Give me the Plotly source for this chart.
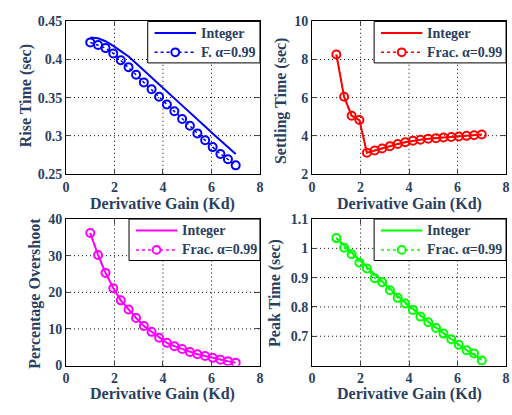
import plotly.graph_objects as go

# ---------------- data ----------------
kd = [1.00, 1.32, 1.63, 1.95, 2.26, 2.58, 2.89, 3.21, 3.53, 3.84,
      4.16, 4.47, 4.79, 5.11, 5.42, 5.74, 6.05, 6.37, 6.68, 7.00]

rise_int = [0.429, 0.428, 0.424, 0.418, 0.411, 0.404, 0.395, 0.386, 0.376, 0.367,
            0.358, 0.349, 0.340, 0.330, 0.321, 0.312, 0.303, 0.294, 0.285, 0.276]
rise_frac = [0.4225, 0.419, 0.415, 0.408, 0.399, 0.390, 0.380, 0.370, 0.361, 0.351,
             0.341, 0.332, 0.322, 0.313, 0.303, 0.294, 0.285, 0.276, 0.269, 0.261]

settle_int = [8.26, 6.04, 5.05, 4.82, 3.10, 3.22, 3.33, 3.45, 3.56, 3.65,
              3.74, 3.79, 3.84, 3.87, 3.90, 3.93, 3.96, 3.99, 4.02, 4.06]
settle_frac = [8.26, 6.04, 5.05, 4.82, 3.10, 3.22, 3.33, 3.45, 3.56, 3.65,
               3.74, 3.79, 3.84, 3.87, 3.90, 3.93, 3.96, 3.99, 4.02, 4.06]

over_int = [36.2, 30.2, 25.3, 21.1, 17.8, 15.3, 13.0, 10.8, 9.2, 7.6,
            6.2, 5.3, 4.5, 3.7, 3.1, 2.6, 2.1, 1.6, 1.2, 0.8]
over_frac = [36.2, 30.2, 25.3, 21.1, 17.8, 15.3, 13.0, 10.8, 9.2, 7.6,
             6.2, 5.3, 4.5, 3.7, 3.1, 2.6, 2.1, 1.6, 1.2, 0.8]

peak_int = [1.035, 1.010, 0.985, 0.960, 0.935, 0.910, 0.885, 0.860, 0.837, 0.815,
            0.792, 0.771, 0.750, 0.730, 0.710, 0.690, 0.671, 0.653, 0.636, 0.620]
peak_frac = [1.035, 1.002, 0.980, 0.951, 0.931, 0.898, 0.884, 0.857, 0.831, 0.812,
             0.790, 0.767, 0.748, 0.728, 0.709, 0.690, 0.671, 0.652, 0.641, 0.617]

x_ticks = [0, 2, 4, 6, 8]
x_labels = ["0", "2", "4", "6", "8"]
rise_ticks = [0.25, 0.3, 0.35, 0.4, 0.45]
rise_labels = ["0.25", "0.3", "0.35", "0.4", "0.45"]
settle_ticks = [2, 4, 6, 8, 10]
settle_labels = ["2", "4", "6", "8", "10"]
over_ticks = [0, 10, 20, 30, 40]
over_labels = ["0", "10", "20", "30", "40"]
peak_ticks = [0.7, 0.8, 0.9, 1.0, 1.1]
peak_labels = ["0.7", "0.8", "0.9", "1", "1.1"]

x_title = "Derivative Gain (Kd)"
y_titles = ["Rise Time (sec)", "Settling Time (sec)", "Percentage Overshoot", "Peak Time (sec)"]
int_name = "Integer"
frac_names = ["F. &#945;=0.99", "Frac. &#945;=0.99", "Frac. &#945;=0.99", "Frac. &#945;=0.99"]
colors = ["#0000ff", "#ff0000", "#ff00ff", "#00ff00"]

# ---------------- layout geometry ----------------
W, H = 512, 415
FONT = "Liberation Serif"
xd_left = [63 / W, 260 / W]
xd_right = [313 / W, 510 / W]
yd_top = [1 - 173 / H, 1 - 15 / H]
yd_bot = [1 - 372 / H, 1 - 220 / H]
legend_widths = [114, 134, 133, 134]


def b(s):
    return "<b>" + s + "</b>"


panels = [
    dict(xd=xd_left, yd=yd_top, yint=rise_int, yfrac=rise_frac, yr=[0.25, 0.45],
         tv=rise_ticks, tt=rise_labels),
    dict(xd=xd_right, yd=yd_top, yint=settle_int, yfrac=settle_frac, yr=[2, 10],
         tv=settle_ticks, tt=settle_labels),
    dict(xd=xd_left, yd=yd_bot, yint=over_int, yfrac=over_frac, yr=[0, 40],
         tv=over_ticks, tt=over_labels),
    dict(xd=xd_right, yd=yd_bot, yint=peak_int, yfrac=peak_frac, yr=[0.6, 1.1],
         tv=peak_ticks, tt=peak_labels),
]

fig = go.Figure()
layout = dict(width=W, height=H, margin=dict(l=0, r=0, t=0, b=0),
              plot_bgcolor="white", showlegend=False)

tickfont = dict(family=FONT, size=14)
shapes = []
ann = []
GRID = dict(color="black", width=1, dash="1px,3px")

for i, p in enumerate(panels):
    n = i + 1
    xa = "x" if n == 1 else f"x{n}"
    ya = "y" if n == 1 else f"y{n}"
    c = colors[i]
    fig.add_trace(go.Scatter(x=kd, y=p["yint"], mode="lines", name=int_name,
                             line=dict(color=c, width=2), xaxis=xa, yaxis=ya))
    fig.add_trace(go.Scatter(x=kd, y=p["yfrac"], mode="lines+markers", name=frac_names[i],
                             line=dict(color=c, width=1.5, dash="dot"),
                             marker=dict(symbol="circle-open", size=8, color=c,
                                         line=dict(color=c, width=2)),
                             xaxis=xa, yaxis=ya))
    common = dict(showline=True, linecolor="black", mirror="allticks", ticks="inside",
                  showgrid=False, zeroline=False, tickfont=tickfont)
    layout["xaxis" if n == 1 else f"xaxis{n}"] = dict(
        domain=p["xd"], anchor=ya, range=[0, 8], tickvals=x_ticks,
        ticktext=[b(t) for t in x_labels], **common)
    layout["yaxis" if n == 1 else f"yaxis{n}"] = dict(
        domain=p["yd"], anchor=xa, range=p["yr"], tickvals=p["tv"],
        ticktext=[b(t) for t in p["tt"]], **common)

    # dotted grid lines at the tick positions (drawn below the data)
    for xv in x_ticks[1:-1]:
        shapes.append(dict(type="line", xref=xa, yref=f"{ya} domain", x0=xv, x1=xv,
                           y0=0, y1=1, line=GRID, layer="below"))
    for yv in p["tv"]:
        if p["yr"][0] < yv < p["yr"][1]:
            shapes.append(dict(type="line", xref=f"{xa} domain", yref=ya, x0=0, x1=1,
                               y0=yv, y1=yv, line=GRID, layer="below"))

    # ---- legend box drawn in pixel space of the paper ----
    R = p["xd"][1] * W
    T = (1 - p["yd"][1]) * H
    L = R - legend_widths[i]
    px = lambda v: v / W
    py = lambda v: 1 - v / H
    shapes.append(dict(type="rect", xref="paper", yref="paper", x0=px(L), x1=px(R),
                       y0=py(T + 43), y1=py(T), fillcolor="white",
                       line=dict(color="black", width=1), layer="above"))
    r1, r2 = T + 12, T + 32
    shapes.append(dict(type="line", xref="paper", yref="paper", x0=px(L + 7), x1=px(L + 49),
                       y0=py(r1), y1=py(r1), line=dict(color=c, width=2), layer="above"))
    shapes.append(dict(type="line", xref="paper", yref="paper", x0=px(L + 7), x1=px(L + 49),
                       y0=py(r2), y1=py(r2), line=dict(color=c, width=1.5, dash="dot"),
                       layer="above"))
    shapes.append(dict(type="circle", xref="paper", yref="paper", x0=px(L + 24), x1=px(L + 32),
                       y0=py(r2 + 4), y1=py(r2 - 4), fillcolor="white",
                       line=dict(color=c, width=2), layer="above"))
    ann.append(dict(text=b(int_name), x=px(L + 52), y=py(r1), xref="paper", yref="paper",
                    showarrow=False, xanchor="left", yanchor="middle",
                    font=dict(family=FONT, size=14)))
    ann.append(dict(text=b(frac_names[i]), x=px(L + 52), y=py(r2), xref="paper", yref="paper",
                    showarrow=False, xanchor="left", yanchor="middle",
                    font=dict(family=FONT, size=14)))

fig.update_layout(**layout)

# axis titles
xt_pos = [(161.5, 204), (411.5, 204), (161.5, 402), (411.5, 402)]
yt_pos = [(22, 92), (282, 97), (32, 297), (276, 297)]
for i in range(4):
    xp, yp = xt_pos[i]
    ann.append(dict(text=b(x_title), x=xp / W, y=1 - yp / H, xref="paper", yref="paper",
                    showarrow=False, xanchor="center", yanchor="middle",
                    font=dict(family=FONT, size=16)))
    xp, yp = yt_pos[i]
    ann.append(dict(text=b(y_titles[i]), x=xp / W, y=1 - yp / H, xref="paper", yref="paper",
                    showarrow=False, xanchor="center", yanchor="middle", textangle=-90,
                    font=dict(family=FONT, size=16)))
fig.update_layout(annotations=ann, shapes=shapes)

fig.write_html("out.html")
